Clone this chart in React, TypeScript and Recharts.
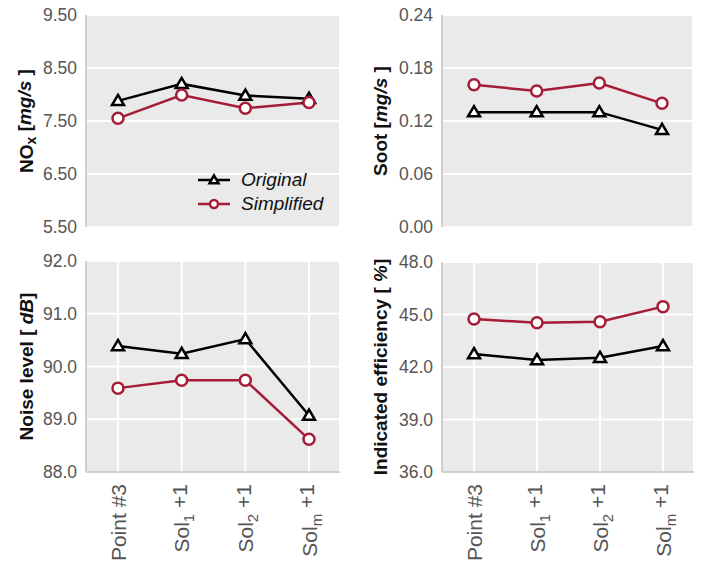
import React from 'react'
import { LineChart, Line, XAxis, YAxis, CartesianGrid, Legend } from 'recharts'

const categories = ['Point #3', 'Sol_1 +1', 'Sol_2 +1', 'Sol_m +1']

const noxOriginal = [7.88, 8.2, 7.98, 7.92]
const noxSimplified = [7.55, 7.99, 7.74, 7.85]
const noxTicks = [5.5, 6.5, 7.5, 8.5, 9.5]

const sootOriginal = [0.13, 0.13, 0.13, 0.11]
const sootSimplified = [0.161, 0.154, 0.163, 0.14]
const sootTicks = [0, 0.06, 0.12, 0.18, 0.24]

const noiseOriginal = [90.39, 90.24, 90.52, 89.07]
const noiseSimplified = [89.59, 89.74, 89.74, 88.62]
const noiseTicks = [88, 89, 90, 91, 92]

const effOriginal = [42.74, 42.4, 42.53, 43.2]
const effSimplified = [44.74, 44.53, 44.59, 45.45]
const effTicks = [36, 39, 42, 45, 48]

const CRIMSON = '#a51c36'
const FONT = '"Liberation Sans", Arial, Helvetica, sans-serif'
const BORDER = '#cfcfcf'

const rows = (orig: number[], simp: number[]) =>
  categories.map((name, i) => ({ name, original: orig[i], simplified: simp[i] }))

function TriangleDot(props: any) {
  const { cx, cy, index, small } = props
  if (cx == null || cy == null) return null
  const s = small ? 4.5 : 6
  return (
    <polygon
      key={`t-${index}`}
      points={`${cx},${cy - s} ${cx - s},${cy + s * 0.7} ${cx + s},${cy + s * 0.7}`}
      fill="#fff"
      stroke="#000"
      strokeWidth={2.5}
    />
  )
}

function CircleDot(props: any) {
  const { cx, cy, index } = props
  if (cx == null || cy == null) return null
  return <circle key={`c-${index}`} cx={cx} cy={cy} r={5.5} fill="#fff" stroke={CRIMSON} strokeWidth={2.5} />
}

function XTick(props: any) {
  const { x, y, payload } = props
  const m = /^(\w+)_(\w)(.*)$/.exec(payload.value)
  return (
    <text
      x={x}
      y={y}
      transform={`rotate(-90 ${x} ${y})`}
      textAnchor="end"
      dy="0.36em"
      fontSize={21}
      fill="#555"
      fontFamily={FONT}
    >
      {m ? (
        <>
          {m[1]}
          <tspan dy="0.35em" fontSize={15}>{m[2]}</tspan>
          <tspan dy="-0.35em">{m[3]}</tspan>
        </>
      ) : (
        payload.value
      )}
    </text>
  )
}

function LegendBox(props: any) {
  const items = props.payload ?? []
  return (
    <div style={{ fontFamily: FONT }}>
      {items.map((it: any) => (
        <div key={it.value} style={{ display: 'flex', alignItems: 'center', height: 24 }}>
          <svg width={36} height={24}>
            <line x1={2} y1={12} x2={34} y2={12} stroke={it.color} strokeWidth={2.5} />
            {it.dataKey === 'original' ? (
              <TriangleDot cx={18} cy={12} small />
            ) : (
              <circle cx={18} cy={12} r={4} fill="#fff" stroke={CRIMSON} strokeWidth={2.5} />
            )}
          </svg>
          <span style={{ marginLeft: 9, fontSize: 19, fontStyle: 'italic', color: '#111' }}>{it.value}</span>
        </div>
      ))}
    </div>
  )
}

const yLabel = (offset: number, parts: React.ReactNode) => (props: any) => {
  const vb = props.viewBox
  const x = vb.x + offset
  const y = vb.y + vb.height / 2
  return (
    <text
      x={x}
      y={y}
      transform={`rotate(-90 ${x} ${y})`}
      textAnchor="middle"
      dominantBaseline="central"
      fontWeight="bold"
      fontSize={19}
      fill="#111"
      fontFamily={FONT}
    >
      {parts}
    </text>
  )
}

interface PanelProps {
  data: { name: string; original: number; simplified: number }[]
  ticks: number[]
  decimals: number
  label: React.ReactNode
  labelOffset: number
  left: number
  top: number
  width: number
  height: number
  margin: { top: number; right: number; bottom: number; left: number }
  yWidth: number
  xHeight: number
  showX: boolean
  legend?: boolean
}

function Panel(p: PanelProps) {
  const domain: [number, number] = [p.ticks[0], p.ticks[p.ticks.length - 1]]
  return (
    <div style={{ position: 'absolute', left: p.left, top: p.top }}>
      <LineChart width={p.width} height={p.height} data={p.data} margin={p.margin}>
        <CartesianGrid stroke="#fff" strokeWidth={2} fill="#eaeaea" fillOpacity={1} />
        <XAxis
          dataKey="name"
          padding={{ left: 32, right: 31 }}
          height={p.xHeight}
          axisLine={{ stroke: BORDER, strokeWidth: 2 }}
          tickLine={false}
          tickSize={0}
          tickMargin={12}
          tick={p.showX ? <XTick /> : false}
          interval={0}
        />
        <XAxis
          xAxisId="top"
          dataKey="name"
          orientation="top"
          height={0}
          axisLine={{ stroke: BORDER, strokeWidth: 2 }}
          tick={false}
          tickLine={false}
        />
        <YAxis
          domain={domain}
          ticks={p.ticks}
          width={p.yWidth}
          axisLine={{ stroke: BORDER, strokeWidth: 2 }}
          tickLine={false}
          tickSize={0}
          tickMargin={9}
          tick={{ fill: '#555', fontSize: 17.5, fontFamily: FONT }}
          tickFormatter={(v: number) => v.toFixed(p.decimals)}
          label={yLabel(p.labelOffset, p.label)}
        />
        <YAxis
          yAxisId="right"
          orientation="right"
          domain={domain}
          ticks={p.ticks}
          width={0}
          axisLine={{ stroke: BORDER, strokeWidth: 2 }}
          tick={false}
          tickLine={false}
        />
        {p.legend && (
          <Legend
            layout="horizontal"
            align="center"
            verticalAlign="middle"
            content={<LegendBox />}
            wrapperStyle={{ position: 'absolute', left: 196, top: 168, width: 150 }}
          />
        )}
        <Line
          dataKey="original"
          name="Original"
          stroke="#000"
          strokeWidth={2.5}
          dot={<TriangleDot />}
          activeDot={false}
          isAnimationActive={false}
        />
        <Line
          dataKey="simplified"
          name="Simplified"
          stroke={CRIMSON}
          strokeWidth={2.5}
          dot={<CircleDot />}
          activeDot={false}
          isAnimationActive={false}
        />
      </LineChart>
    </div>
  )
}

export default function App() {
  return (
    <div style={{ position: 'absolute', left: 0, top: 0, width: 703, height: 567, background: '#fff', fontFamily: FONT }}>
      <Panel
        data={rows(noxOriginal, noxSimplified)}
        ticks={noxTicks}
        decimals={2}
        label={
          <>
            NO<tspan dy="0.35em" fontSize={14}>x</tspan>
            <tspan dy="-0.35em"> [</tspan>
            <tspan fontStyle="italic">mg/s</tspan> ]
          </>
        }
        labelOffset={26}
        left={0}
        top={0}
        width={350}
        height={240}
        margin={{ top: 15, right: 10, bottom: 13, left: 0 }}
        yWidth={86}
        xHeight={0}
        showX={false}
        legend
      />
      <Panel
        data={rows(sootOriginal, sootSimplified)}
        ticks={sootTicks}
        decimals={2}
        label={
          <>
            Soot [<tspan fontStyle="italic">mg/s</tspan> ]
          </>
        }
        labelOffset={30}
        left={350}
        top={0}
        width={353}
        height={240}
        margin={{ top: 15, right: 10, bottom: 13, left: 0 }}
        yWidth={92}
        xHeight={0}
        showX={false}
      />
      <Panel
        data={rows(noiseOriginal, noiseSimplified)}
        ticks={noiseTicks}
        decimals={1}
        label={
          <>
            Noise level [ <tspan fontStyle="italic">dB</tspan>]
          </>
        }
        labelOffset={26}
        left={0}
        top={240}
        width={350}
        height={327}
        margin={{ top: 21, right: 10, bottom: 5, left: 0 }}
        yWidth={86}
        xHeight={90}
        showX
      />
      <Panel
        data={rows(effOriginal, effSimplified)}
        ticks={effTicks}
        decimals={1}
        label={
          <>
            Indicated efficiency [ <tspan fontStyle="italic">%</tspan>]
          </>
        }
        labelOffset={30}
        left={350}
        top={240}
        width={353}
        height={327}
        margin={{ top: 22, right: 9, bottom: 5, left: 0 }}
        yWidth={92}
        xHeight={90}
        showX
      />
    </div>
  )
}
